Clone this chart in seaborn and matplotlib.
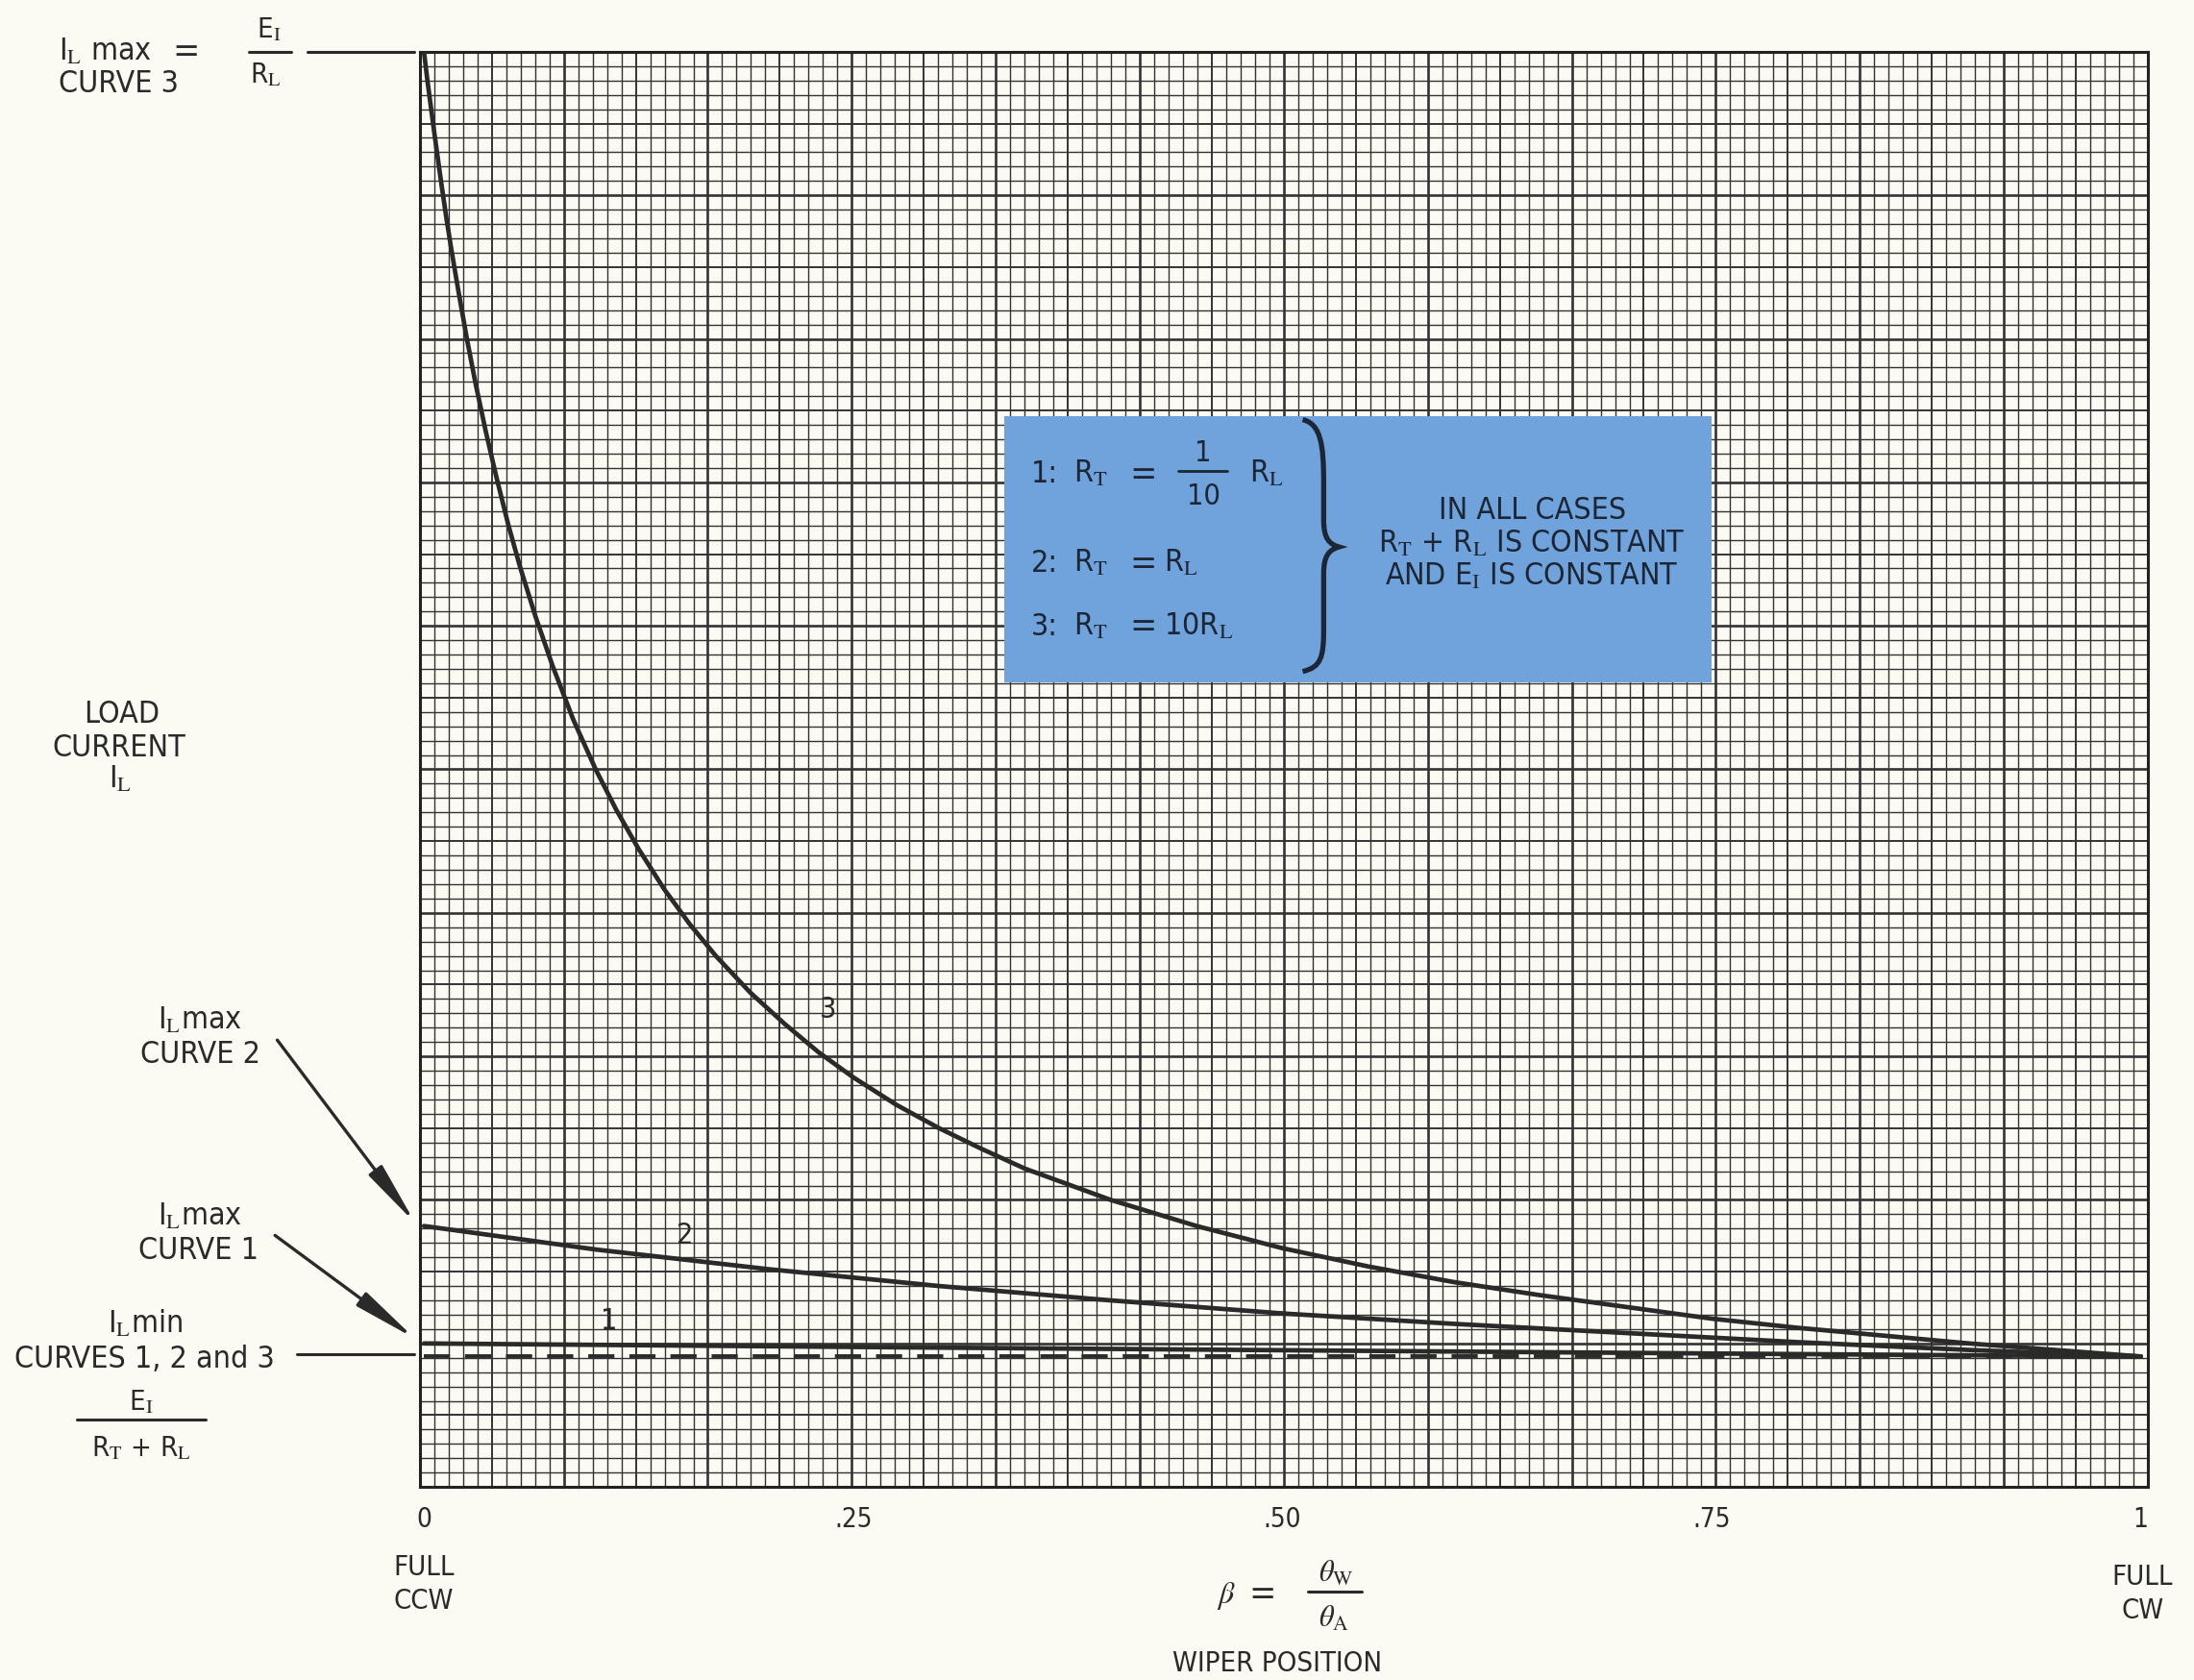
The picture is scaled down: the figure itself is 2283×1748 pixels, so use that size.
import numpy as np
import pandas as pd
import seaborn as sns
import matplotlib.pyplot as plt
from matplotlib.patches import Rectangle, PathPatch, FancyArrowPatch
from matplotlib.path import Path
from matplotlib.lines import Line2D

# wiper position (beta) and load current (I_L min = 1)
beta_3 = [0, 0.002, 0.004, 0.006, 0.008, 0.01, 0.013, 0.016, 0.02, 0.025, 0.03, 0.036,
          0.042, 0.049, 0.056, 0.065, 0.075, 0.087, 0.1, 0.112, 0.125, 0.14, 0.155,
          0.17, 0.19, 0.21, 0.23, 0.25, 0.275, 0.3, 0.325, 0.35, 0.375, 0.4, 0.45,
          0.5, 0.55, 0.6, 0.65, 0.7, 0.75, 0.8, 0.85, 0.9, 0.95, 1.0]
curve_3 = [11.0, 10.78, 10.58, 10.38, 10.19, 10.0, 9.73, 9.48, 9.17, 8.8, 8.46, 8.09,
           7.75, 7.38, 7.05, 6.67, 6.29, 5.88, 5.5, 5.19, 4.89, 4.58, 4.31,
           4.07, 3.79, 3.55, 3.33, 3.14, 2.93, 2.75, 2.59, 2.44, 2.32, 2.2, 2.0,
           1.83, 1.69, 1.57, 1.47, 1.38, 1.29, 1.22, 1.16, 1.1, 1.05, 1.0]
beta_2 = [0, 0.1, 0.2, 0.3, 0.4, 0.5, 0.6, 0.7, 0.8, 0.9, 1.0]
curve_2 = [2.0, 1.82, 1.67, 1.54, 1.43, 1.33, 1.25, 1.18, 1.11, 1.05, 1.0]
beta_1 = [0, 0.25, 0.5, 0.75, 1.0]
curve_1 = [1.1, 1.073, 1.048, 1.023, 1.0]
i_min = 1.0

tick_pos = [0, 0.25, 0.5, 0.75, 1]
tick_txt = ['0', '.25', '.50', '.75', '1']

INK = '#2a2a2a'
PAPER = '#fcfbf3'
BLUE = '#70a3db'
NAVY = '#1c2636'

sns.set_theme(style='white')
plt.rcParams['font.family'] = ['Liberation Sans Narrow', 'DejaVu Sans']
plt.rcParams['font.stretch'] = 'condensed'
plt.rcParams['mathtext.fontset'] = 'stix'

fig = plt.figure(figsize=(22.83, 17.48), dpi=100, facecolor=PAPER)

# everything below is placed on a 1568 x 1201 layout grid (y downwards)
W, H = 1568.0, 1201.0


def label(x, y, s, size=23, ha='center', color=INK, **kw):
    fig.text(x / W, 1 - y / H, s, ha=ha, va='baseline', fontsize=size,
             color=color, zorder=10, **kw)


def rule(x0, x1, y, lw=2.2, color=INK):
    fig.add_artist(Line2D([x0 / W, x1 / W], [1 - y / H, 1 - y / H],
                          color=color, lw=lw, zorder=10))


def arrow(x0, y0, x1, y1):
    fig.add_artist(FancyArrowPatch(
        (x0 / W, 1 - y0 / H), (x1 / W, 1 - y1 / H), transform=fig.transFigure,
        arrowstyle='-|>,head_length=1.0,head_width=0.13', mutation_scale=40,
        color=INK, lw=2.4, zorder=10))


ax = fig.add_axes([300 / W, 1 - 1063 / H, 1235 / W, 1026 / H])
ax.set_facecolor(PAPER)

# graph paper: 120 x 100 small squares, heavier every 5 and 10
for i in range(121):
    w = 1.9 if i % 10 == 0 else (1.4 if i % 5 == 0 else 1.0)
    ax.vlines(i / 120, 0, 1, transform=ax.transAxes, color='#333333', lw=w, zorder=1)
for j in range(101):
    w = 1.9 if j % 10 == 0 else (1.4 if j % 5 == 0 else 1.0)
    ax.hlines(j / 100, 0, 1, transform=ax.transAxes, color='#333333', lw=w, zorder=1)

df = pd.concat([
    pd.DataFrame({'beta': beta_1, 'current': curve_1, 'curve': '1'}),
    pd.DataFrame({'beta': beta_2, 'current': curve_2, 'curve': '2'}),
    pd.DataFrame({'beta': beta_3, 'current': curve_3, 'curve': '3'}),
])
sns.lineplot(data=df, x='beta', y='current', units='curve', estimator=None,
             sort=False, color=INK, lw=3.4, ax=ax, zorder=4)
sns.lineplot(x=[0, 1], y=[i_min, i_min], color=INK, lw=2.8,
             linestyle=(0, (7, 4)), ax=ax, zorder=4)

ax.set_xlim(-0.00245, 1.00407)
ax.set_ylim(0, 11)
ax.set_xlabel('')
ax.set_ylabel('')
ax.set_yticks([])
ax.set_xticks(tick_pos, tick_txt)
ax.tick_params(axis='x', length=0, pad=14, labelsize=20, labelcolor=INK)
for s in ax.spines.values():
    s.set_color('#222222')
    s.set_linewidth(2.2)

# curve numbers
ax.text(0.2355, 3.66, '3', fontsize=22, color=INK, ha='center', va='center', zorder=5)
ax.text(0.152, 1.93, '2', fontsize=22, color=INK, ha='center', va='center', zorder=5)
ax.text(0.108, 1.27, '1', fontsize=22, color=INK, ha='center', va='center', zorder=5)

# blue key box
ax.add_patch(Rectangle((0.338, 6.165), 0.412, 2.045, facecolor=BLUE,
                       edgecolor='none', zorder=6))
for num, yb in [('1:', 345), ('2:', 409), ('3:', 454)]:
    label(737, yb, num, 23, ha='left', color=NAVY)
    label(767, yb, r'R$_\mathrm{T}$', 23, ha='left', color=NAVY)
    label(817, yb + 1, '=', 27, color=NAVY)
label(860, 330, '1', 22, color=NAVY)
rule(842, 877, 337, lw=2, color=NAVY)
label(860, 361, '10', 22, color=NAVY)
label(893, 345, r'R$_\mathrm{L}$', 23, ha='left', color=NAVY)
label(832, 409, r'R$_\mathrm{L}$', 23, ha='left', color=NAVY)
label(832, 454, r'10R$_\mathrm{L}$', 23, ha='left', color=NAVY)
label(1095, 371, 'IN ALL CASES', 23, color=NAVY)
label(1095, 395, r'R$_\mathrm{T}$ + R$_\mathrm{L}$ IS CONSTANT', 23, color=NAVY)
label(1095, 418, r'AND E$_\mathrm{I}$ IS CONSTANT', 23, color=NAVY)

brace = [(931, 300), (944, 303), (946, 318), (946, 345), (946, 372),
         (946, 385), (950, 389), (957, 391), (950, 393), (946, 397), (946, 410),
         (946, 450), (946, 470), (944, 477), (931, 480)]
codes = [Path.MOVETO, Path.CURVE4, Path.CURVE4, Path.CURVE4, Path.LINETO,
         Path.CURVE4, Path.CURVE4, Path.CURVE4, Path.CURVE4, Path.CURVE4, Path.CURVE4,
         Path.LINETO, Path.CURVE4, Path.CURVE4, Path.CURVE4]
fig.add_artist(PathPatch(Path([(x / W, 1 - y / H) for x, y in brace], codes),
                         transform=fig.transFigure, fill=False, edgecolor=NAVY,
                         lw=3.8, zorder=10))

# left side annotations
label(42, 43, r'I$_\mathrm{L}$ max', ha='left')
label(133, 44, '=', 27)
label(42, 66, 'CURVE 3', ha='left')
label(192, 27, r'E$_\mathrm{I}$', 21)
rule(178, 208, 37)
label(190, 59, r'R$_\mathrm{L}$', 21)
rule(220, 296, 37)

label(87, 517, 'LOAD')
label(85, 541, 'CURRENT')
label(86, 563, r'I$_\mathrm{L}$')

label(143, 736, r'I$_\mathrm{L}$max')
label(143, 760, 'CURVE 2')
arrow(197, 742, 298, 876)
label(143, 876, r'I$_\mathrm{L}$max')
label(142, 900, 'CURVE 1')
arrow(195, 882, 298, 958)
label(104, 953, r'I$_\mathrm{L}$min')
label(103, 978, 'CURVES 1, 2 and 3')
rule(212, 296, 968)
label(101, 1008, r'E$_\mathrm{I}$', 21)
rule(55, 147, 1015)
label(101, 1041, r'R$_\mathrm{T}$ + R$_\mathrm{L}$', 21)

# bottom annotations
label(303, 1126, 'FULL', 21)
label(303, 1150, 'CCW', 21)
label(1531, 1133, 'FULL', 21)
label(1531, 1157, 'CW', 21)
label(876, 1146, r'$\beta$', 23)
label(902, 1147, '=', 27)
label(955, 1131, r'$\theta_\mathrm{W}$', 22)
rule(935, 973, 1138)
label(953, 1163, r'$\theta_\mathrm{A}$', 22)
label(913, 1195, 'WIPER POSITION', 21)

fig.savefig('out.png', dpi=100, facecolor=PAPER)
